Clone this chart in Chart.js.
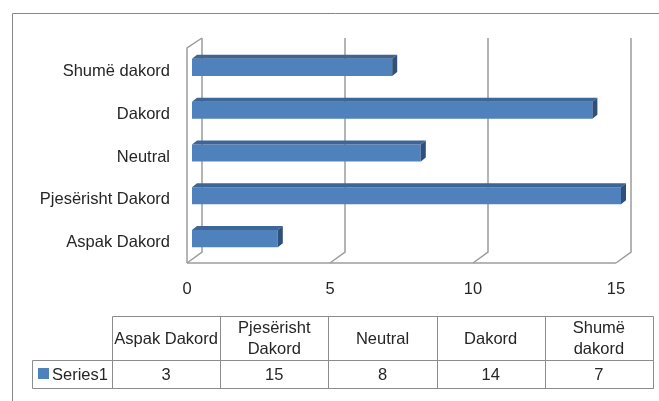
<!DOCTYPE html>
<html>
<head>
<meta charset="utf-8">
<script src="https://cdn.jsdelivr.net/npm/chart.js@4.4.1/dist/chart.umd.min.js"></script>
<style>
  html, body { margin: 0; padding: 0; background: #fff; }
  #wrap { width: 659px; height: 401px; position: relative; }
</style>
</head>
<body>
<div id="wrap"><canvas id="chart" width="659" height="401"></canvas></div>
<script>
// Survey answers, bottom-to-top in the chart, left-to-right in the table
const categories = ['Aspak Dakord', 'Pjesërisht Dakord', 'Neutral', 'Dakord', 'Shumë dakord'];
const tableHeaders = [['Aspak Dakord'], ['Pjesërisht', 'Dakord'], ['Neutral'], ['Dakord'], ['Shumë', 'dakord']];
const series1 = [3, 15, 8, 14, 7];
const seriesName = 'Series1';
const xTicks = [0, 5, 10, 15];

const FONT = '"Liberation Sans", Arial, sans-serif';
const FSIZE = 16.5;
const TEXT = '#262626';
const GRID = '#9c9c9c';

// back wall, floor and side wall of the 3D box
const wallPlugin = {
  id: 'wall',
  beforeDraw(chart) {
    const { ctx, chartArea: a, scales: { x } } = chart;
    ctx.save();
    // outer chart frame
    ctx.strokeStyle = '#878787';
    ctx.lineWidth = 1;
    ctx.beginPath();
    ctx.moveTo(12.5, 401);
    ctx.lineTo(12.5, 13.5);
    ctx.lineTo(659, 13.5);
    ctx.stroke();

    const backTop = a.top - 8, backBot = a.bottom - 8, frontBot = a.bottom + 3;
    ctx.strokeStyle = GRID;
    ctx.lineWidth = 1.5;
    xTicks.forEach(v => {
      const px = x.getPixelForValue(v);
      ctx.beginPath();
      ctx.moveTo(px + 10, backTop);
      ctx.lineTo(px + 10, backBot);
      ctx.lineTo(px - 5, frontBot);
      ctx.stroke();
    });
    // floor front edge
    ctx.beginPath();
    ctx.moveTo(x.getPixelForValue(0) - 5, frontBot);
    ctx.lineTo(x.getPixelForValue(15) - 5, frontBot);
    ctx.stroke();
    // side wall front edge
    const l = x.getPixelForValue(0);
    ctx.beginPath();
    ctx.moveTo(l - 5, frontBot);
    ctx.lineTo(l - 5, a.top + 2);
    ctx.lineTo(l + 10, backTop);
    ctx.stroke();
    ctx.restore();
  },
  afterDatasetsDraw(chart) {
    const { ctx } = chart;
    const meta = chart.getDatasetMeta(0);
    const dx = 5, dy = 4;
    ctx.save();
    meta.data.forEach(bar => {
      const x0 = bar.base, x1 = bar.x;
      const yt = bar.y - bar.height / 2, yb = bar.y + bar.height / 2;
      // top face
      ctx.fillStyle = '#3d6595';
      ctx.beginPath();
      ctx.moveTo(x0, yt);
      ctx.lineTo(x0 + dx, yt - dy);
      ctx.lineTo(x1 + dx, yt - dy);
      ctx.lineTo(x1, yt);
      ctx.closePath();
      ctx.fill();
      // right side face
      ctx.fillStyle = '#2f5079';
      ctx.beginPath();
      ctx.moveTo(x1, yt);
      ctx.lineTo(x1 + dx, yt - dy);
      ctx.lineTo(x1 + dx, yb - dy);
      ctx.lineTo(x1, yb);
      ctx.closePath();
      ctx.fill();
    });
    ctx.restore();
  },
  // data table under the chart
  afterDraw(chart) {
    const { ctx } = chart;
    const left = 112, colW = 108.2, top = 316, headH = 44, rowH = 28, rowHeadL = 32;
    const right = left + colW * categories.length;
    ctx.save();
    ctx.strokeStyle = '#8c8c8c';
    ctx.lineWidth = 1;
    ctx.beginPath();
    ctx.rect(left + 0.5, top + 0.5, right - left, headH + rowH);
    ctx.rect(rowHeadL + 0.5, top + headH + 0.5, right - rowHeadL, rowH);
    for (let i = 1; i < categories.length; i++) {
      const cx = Math.round(left + colW * i) + 0.5;
      ctx.moveTo(cx, top);
      ctx.lineTo(cx, top + headH + rowH);
    }
    ctx.stroke();

    ctx.fillStyle = TEXT;
    ctx.font = FSIZE + 'px ' + FONT;
    ctx.textAlign = 'center';
    ctx.textBaseline = 'middle';
    tableHeaders.forEach((lines, i) => {
      const cx = left + colW * (i + 0.5);
      const cy = top + headH / 2 + 1;
      lines.forEach((t, j) => {
        ctx.fillText(t, cx, cy + (j - (lines.length - 1) / 2) * 21);
      });
      ctx.fillText(String(series1[i]), cx, top + headH + rowH / 2 + 1);
    });
    // legend key + series name
    ctx.fillStyle = '#4f81bd';
    ctx.fillRect(38, top + headH + 8, 11, 11);
    ctx.fillStyle = TEXT;
    ctx.textAlign = 'left';
    ctx.fillText(seriesName, 52, top + headH + rowH / 2 + 1);
    ctx.restore();
  }
};

new Chart(document.getElementById('chart'), {
  type: 'bar',
  data: {
    labels: categories,
    datasets: [{
      label: seriesName,
      data: series1,
      backgroundColor: '#4f81bd',
      borderWidth: 0,
      categoryPercentage: 1,
      barPercentage: 0.4
    }]
  },
  options: {
    indexAxis: 'y',
    responsive: false,
    animation: false,
    layout: { padding: { top: 46, right: 38, left: 0, bottom: 0 } },
    plugins: { legend: { display: false }, tooltip: { enabled: false } },
    scales: {
      x: {
        min: 0, max: 15,
        afterBuildTicks: s => { s.ticks = xTicks.map(v => ({ value: v })); },
        afterFit: s => { s.height = 141; },
        grid: { display: false, drawTicks: false },
        border: { display: false },
        ticks: { color: TEXT, font: { family: FONT, size: FSIZE }, padding: 20, labelOffset: -5, maxRotation: 0 }
      },
      y: {
        reverse: true,
        afterFit: s => { s.width = 192; },
        grid: { display: false, drawTicks: false },
        border: { display: false },
        ticks: { color: TEXT, font: { family: FONT, size: FSIZE }, padding: 22, labelOffset: 4 }
      }
    }
  },
  plugins: [wallPlugin]
});
</script>
</body>
</html>
